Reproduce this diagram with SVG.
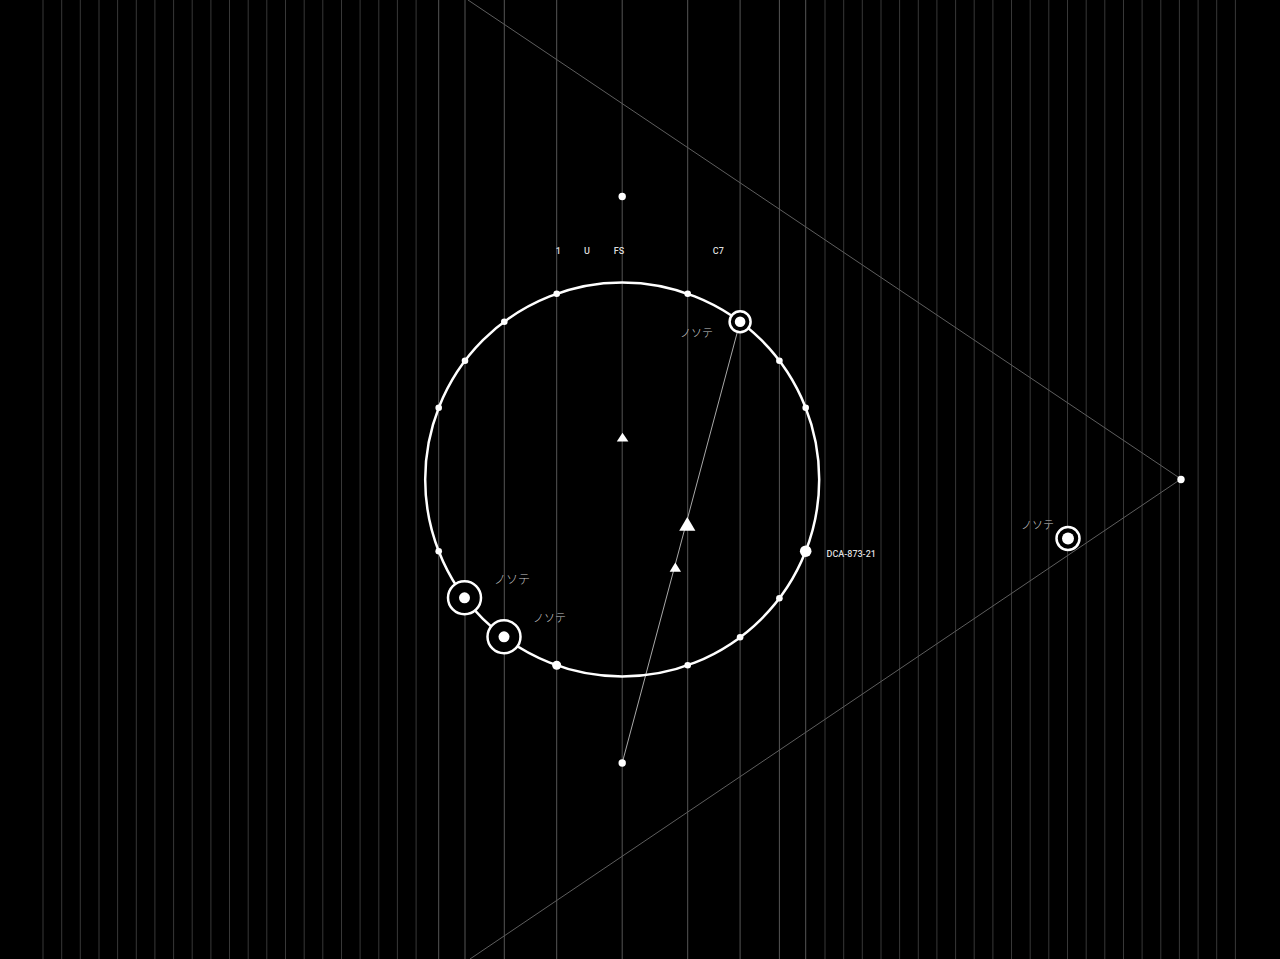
<svg xmlns="http://www.w3.org/2000/svg" width="1280" height="959" viewBox="0 0 1280 959">
<style>
.grid line{stroke:#383838;stroke-width:1}
.nline line{stroke:#555;stroke-width:1}
.dot{fill:#fff}
.ring{fill:#000;stroke:#fff;stroke-width:2.5}
.lbl{font-family:Roboto,"Liberation Sans",sans-serif;font-size:9px;font-weight:500;fill:#ddd}
.jp{font-family:"Noto Sans CJK JP",sans-serif;font-weight:300;fill:#c8c8c8}
.tri{fill:#fff}
</style>
<rect width="1280" height="959" fill="#000"/>
<g class="grid" id="grid">
<line x1="43" y1="0" x2="43" y2="959"/><line x1="61.7" y1="0" x2="61.7" y2="959"/><line x1="80.3" y1="0" x2="80.3" y2="959"/><line x1="99" y1="0" x2="99" y2="959"/><line x1="117.6" y1="0" x2="117.6" y2="959"/><line x1="136.3" y1="0" x2="136.3" y2="959"/><line x1="154.9" y1="0" x2="154.9" y2="959"/><line x1="173.6" y1="0" x2="173.6" y2="959"/><line x1="192.2" y1="0" x2="192.2" y2="959"/><line x1="210.9" y1="0" x2="210.9" y2="959"/><line x1="229.5" y1="0" x2="229.5" y2="959"/><line x1="248.2" y1="0" x2="248.2" y2="959"/><line x1="266.8" y1="0" x2="266.8" y2="959"/><line x1="285.5" y1="0" x2="285.5" y2="959"/><line x1="304.2" y1="0" x2="304.2" y2="959"/><line x1="322.8" y1="0" x2="322.8" y2="959"/><line x1="341.5" y1="0" x2="341.5" y2="959"/><line x1="360.1" y1="0" x2="360.1" y2="959"/><line x1="378.8" y1="0" x2="378.8" y2="959"/><line x1="397.4" y1="0" x2="397.4" y2="959"/><line x1="416.1" y1="0" x2="416.1" y2="959"/>
<line x1="825" y1="0" x2="825" y2="959"/><line x1="843.7" y1="0" x2="843.7" y2="959"/><line x1="862.3" y1="0" x2="862.3" y2="959"/><line x1="881" y1="0" x2="881" y2="959"/><line x1="899.6" y1="0" x2="899.6" y2="959"/><line x1="918.3" y1="0" x2="918.3" y2="959"/><line x1="936.9" y1="0" x2="936.9" y2="959"/><line x1="955.6" y1="0" x2="955.6" y2="959"/><line x1="974.2" y1="0" x2="974.2" y2="959"/><line x1="992.9" y1="0" x2="992.9" y2="959"/><line x1="1011.5" y1="0" x2="1011.5" y2="959"/><line x1="1030.2" y1="0" x2="1030.2" y2="959"/><line x1="1048.8" y1="0" x2="1048.8" y2="959"/><line x1="1067.5" y1="0" x2="1067.5" y2="959"/><line x1="1086.2" y1="0" x2="1086.2" y2="959"/><line x1="1104.8" y1="0" x2="1104.8" y2="959"/><line x1="1123.5" y1="0" x2="1123.5" y2="959"/><line x1="1142.1" y1="0" x2="1142.1" y2="959"/><line x1="1160.8" y1="0" x2="1160.8" y2="959"/><line x1="1179.4" y1="0" x2="1179.4" y2="959"/><line x1="1198.1" y1="0" x2="1198.1" y2="959"/><line x1="1216.7" y1="0" x2="1216.7" y2="959"/><line x1="1235.4" y1="0" x2="1235.4" y2="959"/>
</g>
<g class="nline" id="node-lines">
<line x1="438.7" y1="0" x2="438.7" y2="959"/><line x1="465" y1="0" x2="465" y2="959"/><line x1="504.3" y1="0" x2="504.3" y2="959"/><line x1="556.7" y1="0" x2="556.7" y2="959"/><line x1="622.2" y1="0" x2="622.2" y2="959"/><line x1="687.7" y1="0" x2="687.7" y2="959"/><line x1="740.1" y1="0" x2="740.1" y2="959"/><line x1="779.4" y1="0" x2="779.4" y2="959"/><line x1="805.7" y1="0" x2="805.7" y2="959"/>
</g>
<g id="connectors" fill="none">
<polyline points="468,0 1181,479 470,959" stroke="#5e5e5e" stroke-width="1"/>
<line x1="740.1" y1="321.7" x2="622.2" y2="763" stroke="#a8a8a8" stroke-width="1"/>
</g>
<g id="orbit">
<circle cx="622.2" cy="479.5" r="197" fill="none" stroke="#fff" stroke-width="2.5"/>
</g>
<g id="orbit-dots" class="dot">
<circle cx="438.7" cy="407.8" r="3.3"/><circle cx="465" cy="360.8" r="3.3"/><circle cx="504.3" cy="321.7" r="3.3"/><circle cx="556.7" cy="293.7" r="3.3"/>
<circle cx="687.7" cy="293.7" r="3.3"/><circle cx="779.4" cy="360.8" r="3.3"/><circle cx="805.7" cy="407.8" r="3.3"/>
<circle cx="438.7" cy="551.2" r="3.3"/><circle cx="556.7" cy="665.3" r="4.5"/><circle cx="687.7" cy="665.3" r="3.3"/><circle cx="740.1" cy="637.3" r="3.3"/><circle cx="779.4" cy="598.2" r="3.3"/>
</g>
<g id="node-dca"><circle class="dot" cx="805.7" cy="551.2" r="5.8"/><text class="lbl" x="826.5" y="557.3">DCA-873-21</text></g>
<g id="node-top"><circle class="dot" cx="622.2" cy="196.5" r="3.7"/></g>
<g id="node-bottom"><circle class="dot" cx="622.2" cy="763" r="3.7"/></g>
<g id="node-apex"><circle class="dot" cx="1181" cy="479.5" r="3.7"/></g>
<g id="ring-c7"><circle class="ring" cx="740.1" cy="321.7" r="10.5"/><circle class="dot" cx="740.1" cy="321.7" r="5.3"/><text class="jp" x="680" y="337" font-size="11">ノソテ</text></g>
<g id="ring-a"><circle class="ring" cx="464.5" cy="597.8" r="16.5"/><circle class="dot" cx="464.5" cy="597.8" r="5.5"/><text class="jp" x="494" y="584" font-size="12">ノソテ</text></g>
<g id="ring-b"><circle class="ring" cx="504" cy="636.8" r="16.5"/><circle class="dot" cx="504" cy="636.8" r="5.5"/><text class="jp" x="533" y="622" font-size="11">ノソテ</text></g>
<g id="ring-far"><circle class="ring" cx="1068" cy="538.5" r="11.5"/><circle class="dot" cx="1068" cy="538.5" r="6"/><text class="jp" x="1021" y="529" font-size="11">ノソテ</text></g>
<g id="triangles" class="tri">
<polygon points="622.5,432.7 616.8,441.6 628.4,441.6"/>
<polygon points="687.3,517 679.2,530.8 695.4,530.8"/>
<polygon points="675.3,562.6 669.6,571.7 681,571.7"/>
</g>
<g id="top-labels" class="lbl" text-anchor="middle">
<text x="558.3" y="254">1</text><text x="587" y="254">U</text><text x="619" y="254">FS</text><text x="718.3" y="254">C7</text>
</g>
</svg>
